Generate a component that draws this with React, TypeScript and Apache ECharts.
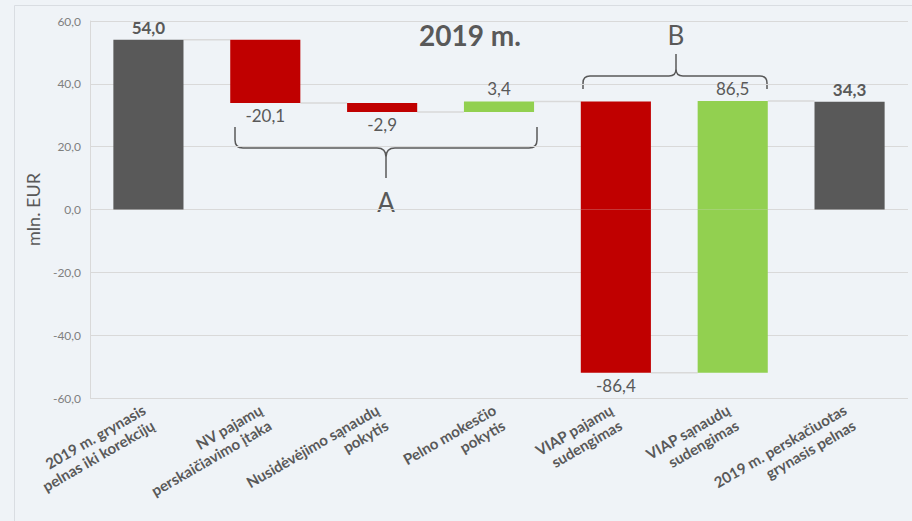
import React, { useEffect, useRef } from "react";
import * as echarts from "echarts";

const categories = [
  "2019 m. grynasis\npelnas iki korekcijų",
  "NV pajamų\nperskaičiavimo įtaka",
  "Nusidėvėjimo sąnaudų\npokytis",
  "Pelno mokesčio\npokytis",
  "VIAP pajamų\nsudengimas",
  "VIAP sąnaudų\nsudengimas",
  "2019 m. perskačiuotas\ngrynasis pelnas",
];
const values = [54.0, -20.1, -2.9, 3.4, -86.4, 86.5, 34.3];
const isTotal = [true, false, false, false, false, false, true];
const yTicks = { min: -60, max: 60, interval: 20 };

const COLOR_TOTAL = "#595959";
const COLOR_NEG = "#c00000";
const COLOR_POS = "#92d050";
const TEXT = "#595959";
const FONT = "Lato, 'Open Sans', sans-serif";

const fmt = (v: number) => v.toFixed(1).replace(".", ",");

echarts.graphic.registerShape(
  "braceA",
  echarts.graphic.extendPath(
    "M235,127 L235,140 Q235,148 243,148 L377,148 Q386,148 386,157 L386,178 M386,157 Q386,148 395,148 L529,148 Q537,148 537,140 L537,127",
    {}
  )
);
echarts.graphic.registerShape(
  "braceB",
  echarts.graphic.extendPath(
    "M583,89 L583,83 Q583,76 590,76 L669,76 Q676,76 676,69 L676,54 M676,69 Q676,76 683,76 L760,76 Q767,76 767,83 L767,89",
    {}
  )
);

export default function App() {
  const ref = useRef<HTMLDivElement>(null);
  useEffect(() => {
    if (!ref.current) return;
    const chart = echarts.init(ref.current, null, { renderer: "svg" });

    let running = 0;
    const base: any[] = [];
    const pos: any[] = [];
    const neg: any[] = [];
    const levels: number[] = [];
    values.forEach((v, i) => {
      let low: number, high: number;
      if (isTotal[i]) {
        low = Math.min(0, v);
        high = Math.max(0, v);
        running = v;
      } else {
        const start = running;
        const end = running + v;
        low = Math.min(start, end);
        high = Math.max(start, end);
        running = end;
      }
      levels.push(running);
      const color = isTotal[i] ? COLOR_TOTAL : v < 0 ? COLOR_NEG : COLOR_POS;
      let b = 0, p = 0, n = 0;
      if (low >= 0) {
        b = low;
        p = high - low;
      } else if (high <= 0) {
        b = high;
        n = low - high;
      } else {
        p = high;
        n = low;
      }
      const text = fmt(v);
      const lblBase = {
        show: true,
        formatter: text,
        color: TEXT,
        fontFamily: FONT,
        fontSize: 17,
        fontWeight: isTotal[i] ? "bold" : "normal",
        distance: 4,
      };
      const labelOnNeg = !isTotal[i] && v < 0 && n !== 0;
      base.push(b);
      pos.push({
        value: p,
        itemStyle: { color },
        label: labelOnNeg
          ? { show: false }
          : { ...lblBase, position: isTotal[i] || v > 0 ? "top" : "bottom" },
      });
      neg.push({
        value: n,
        itemStyle: { color },
        label: labelOnNeg ? { ...lblBase, position: "bottom" } : { show: false },
      });
    });

    const connectors = levels.slice(0, -1).map((lv, i) => [i, lv]);

    chart.setOption({
      animation: false,
      backgroundColor: "#eff3f7",
      grid: { left: 90, right: 4, top: 21, bottom: 123 },
      xAxis: {
        type: "category",
        data: categories,
        axisTick: { show: false },
        axisLine: { show: false },
        axisLabel: {
          rotate: 30,
          interval: 0,
          color: TEXT,
          fontFamily: FONT,
          fontSize: 15,
          fontWeight: "bold",
          lineHeight: 18,
          margin: 18,
        },
      },
      yAxis: {
        type: "value",
        min: yTicks.min,
        max: yTicks.max,
        interval: yTicks.interval,
        name: "mln. EUR",
        nameLocation: "middle",
        nameGap: 48,
        nameTextStyle: { color: TEXT, fontFamily: FONT, fontSize: 18 },
        axisLine: { show: true, lineStyle: { color: "#d9d9d9" } },
        axisTick: { show: false },
        splitLine: { lineStyle: { color: "#d9d9d9" } },
        axisLabel: {
          color: "#7f7f7f",
          fontFamily: FONT,
          fontSize: 12,
          margin: 9,
          formatter: (v: number) => fmt(v),
        },
      },
      series: [
        {
          type: "custom",
          z: 1,
          data: connectors,
          renderItem: (params: any, api: any) => {
            const p = api.coord([api.value(0), api.value(1)]);
            const bw = api.size([1, 0])[0];
            return {
              type: "line",
              shape: { x1: p[0] + bw * 0.3, y1: p[1], x2: p[0] + bw * 0.7, y2: p[1] },
              style: { stroke: "#d9d9d9", lineWidth: 1.5 },
            };
          },
        },
        {
          type: "bar",
          stack: "wf",
          barWidth: "60%",
          data: base,
          itemStyle: { color: "transparent" },
          z: 2,
        },
        { type: "bar", stack: "wf", barWidth: "60%", data: pos, z: 3 },
        { type: "bar", stack: "wf", barWidth: "60%", data: neg, z: 3 },
      ],
      graphic: [
        {
          type: "rect",
          z: -1,
          silent: true,
          shape: { x: 14.5, y: 5.5, width: 920, height: 540 },
          style: { fill: "none", stroke: "#d9dde2", lineWidth: 1 },
        },
        {
          type: "text",
          x: 470,
          y: 35,
          style: {
            text: "2019 m.",
            fill: TEXT,
            font: `bold 28px ${FONT}`,
            textAlign: "center",
            textVerticalAlign: "middle",
          },
        },
        {
          type: "braceA",
          x: 0,
          y: 0,
          style: { stroke: TEXT, fill: "none", lineWidth: 1.5 },
        },
        {
          type: "braceB",
          x: 0,
          y: 0,
          style: { stroke: TEXT, fill: "none", lineWidth: 1.5 },
        },
        {
          type: "text",
          x: 386,
          y: 202,
          style: {
            text: "A",
            fill: TEXT,
            font: `26px ${FONT}`,
            textAlign: "center",
            textVerticalAlign: "middle",
          },
        },
        {
          type: "text",
          x: 676,
          y: 35,
          style: {
            text: "B",
            fill: TEXT,
            font: `26px ${FONT}`,
            textAlign: "center",
            textVerticalAlign: "middle",
          },
        },
      ],
    });
    return () => chart.dispose();
  }, []);
  return (
    <div
      ref={ref}
      style={{ position: "fixed", left: 0, top: 0, width: 912, height: 521, background: "#eff3f7" }}
    />
  );
}
